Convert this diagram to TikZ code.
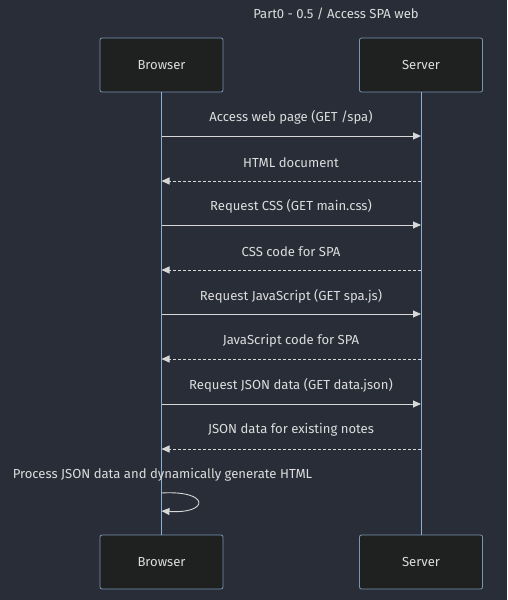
\documentclass[tikz,border=0pt]{standalone}
\usepackage{fontspec}
\setmainfont{Fira Sans}
\usetikzlibrary{arrows.meta}
\definecolor{bg}{HTML}{282D38}
\definecolor{boxfill}{HTML}{1F2020}
\definecolor{boxline}{HTML}{7896B4}
\definecolor{lifeline}{HTML}{8FAFD0}
\definecolor{txt}{HTML}{DCDCDC}
\definecolor{msg}{HTML}{D8D8D8}
\begin{document}
\begin{tikzpicture}[x=1pt,y=-1pt,
  actor/.style={draw=boxline,fill=boxfill,rounded corners=2pt,minimum width=123pt,minimum height=54pt,inner sep=0pt,text=txt,font=\fontsize{13.1}{15}\selectfont,line width=0.8pt},
  lab/.style={text=txt,font=\fontsize{13.1}{15}\selectfont,inner sep=0pt},
  call/.style={draw=msg,line width=0.9pt,-{Triangle[length=8pt,width=7pt]}},
  reply/.style={call,dash pattern=on 3pt off 2pt}]
\fill[bg] (0,0) rectangle (507,600);
\useasboundingbox (0,0) rectangle (507,600);
\node[lab] (title) at (336,14) {Part0 - 0.5 / Access SPA web};
\node[actor] (bt) at (161.5,65) {Browser};
\node[actor] (st) at (421,65) {Server};
\node[actor] (bb) at (161.5,562) {Browser};
\node[actor] (sb) at (421,562) {Server};
\draw[lifeline,line width=0.9pt] (bt.south) -- (bb.north);
\draw[lifeline,line width=0.9pt] (st.south) -- (sb.north);
% messages
\coordinate (b1) at (161.5,136); \coordinate (s1) at (421,136);
\coordinate (b2) at (161.5,181); \coordinate (s2) at (421,181);
\coordinate (b3) at (161.5,225); \coordinate (s3) at (421,225);
\coordinate (b4) at (161.5,270); \coordinate (s4) at (421,270);
\coordinate (b5) at (161.5,314); \coordinate (s5) at (421,314);
\coordinate (b6) at (161.5,359); \coordinate (s6) at (421,359);
\coordinate (b7) at (161.5,404); \coordinate (s7) at (421,404);
\coordinate (b8) at (161.5,449); \coordinate (s8) at (421,449);
\draw[call] (b1) -- (s1);
\draw[reply] (s2) -- (b2);
\draw[call] (b3) -- (s3);
\draw[reply] (s4) -- (b4);
\draw[call] (b5) -- (s5);
\draw[reply] (s6) -- (b6);
\draw[call] (b7) -- (s7);
\draw[reply] (s8) -- (b8);
\node[lab] (l1) at (291,117.5) {Access web page (GET /spa)};
\node[lab] (l2) at (291,162.5) {HTML document};
\node[lab] (l3) at (291,206.5) {Request CSS (GET main.css)};
\node[lab] (l4) at (291,251.5) {CSS code for SPA};
\node[lab] (l5) at (291,296.5) {Request JavaScript (GET spa.js)};
\node[lab] (l6) at (291,340.5) {JavaScript code for SPA};
\node[lab] (l7) at (291,385.5) {Request JSON data (GET data.json)};
\node[lab] (l8) at (291,429.5) {JSON data for existing notes};
\node[lab] (l9) at (162.5,474.5) {Process JSON data and dynamically generate HTML};
\coordinate (p1) at (161.5,493); \coordinate (p2) at (161.5,511);
\draw[call] (p1) .. controls (210,490) and (210,514) .. (p2);
\end{tikzpicture}
\end{document}
